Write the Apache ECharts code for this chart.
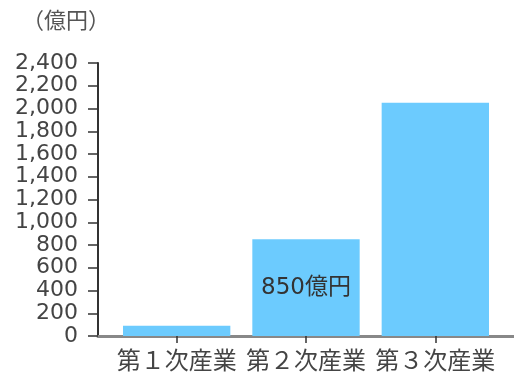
<!DOCTYPE html>
<html>
<head>
<meta charset="utf-8">
<script src="https://cdn.jsdelivr.net/npm/echarts@6/dist/echarts.min.js"></script>
<style>
  html, body { margin: 0; padding: 0; background: #fff; }
  #chart { width: 514px; height: 375px; }
</style>
</head>
<body>
<div id="chart"></div>
<script>
// Output by industry sector (億円)
const categories = ['第１次産業', '第２次産業', '第３次産業'];
const values = [90, 850, 2050];
const unitLabel = '（億円）';
const labelledIndex = 1; // only the secondary sector carries a value label

const chart = echarts.init(document.getElementById('chart'));

const numFont = 'DejaVu Sans, Noto Sans CJK JP, sans-serif';
const cjkFont = 'Noto Sans CJK JP, sans-serif';

chart.setOption({
  animation: false,
  grid: [
    { left: 112, right: 14, top: 63, bottom: 39 },
    // full-width baseline running from the value axis to the right edge
    { left: 98, right: 0, top: 63, bottom: 39 }
  ],
  graphic: [{
    type: 'text',
    left: 22, top: 9,
    style: { text: unitLabel, font: '22px ' + cjkFont, fill: '#555' }
  }],
  xAxis: [{
    type: 'category',
    gridIndex: 0,
    data: categories,
    axisLine: { show: false },
    axisTick: { show: true, alignWithLabel: true, length: 7, lineStyle: { color: '#333', width: 1.5 } },
    axisLabel: { color: '#444', fontSize: 24, fontFamily: cjkFont, margin: 12, interval: 0 }
  }, {
    type: 'value',
    gridIndex: 1,
    min: 0, max: 1,
    axisLine: { show: true, lineStyle: { color: '#888', width: 3 } },
    axisTick: { show: false },
    axisLabel: { show: false },
    splitLine: { show: false }
  }],
  yAxis: [{
    type: 'value',
    gridIndex: 0,
    min: 0, max: 2400, interval: 200,
    offset: 14,
    axisLine: { show: true, lineStyle: { color: '#333', width: 2 } },
    axisTick: { show: true, length: 10, lineStyle: { color: '#333', width: 1.5 } },
    axisLabel: {
      color: '#444', fontSize: 22, fontFamily: numFont, margin: 20,
      formatter: v => v.toLocaleString('en-US')
    },
    splitLine: { show: false }
  }, {
    type: 'value',
    gridIndex: 1,
    show: false
  }],
  series: [{
    type: 'bar',
    xAxisIndex: 0, yAxisIndex: 0,
    data: values.map((v, i) => ({
      value: v,
      label: {
        show: i === labelledIndex,
        position: 'inside',
        formatter: '{c}億円',
        color: '#333',
        fontSize: 23,
        fontFamily: numFont
      }
    })),
    barCategoryGap: '17%',
    itemStyle: { color: '#6ccbfe' }
  }]
});
</script>
</body>
</html>
